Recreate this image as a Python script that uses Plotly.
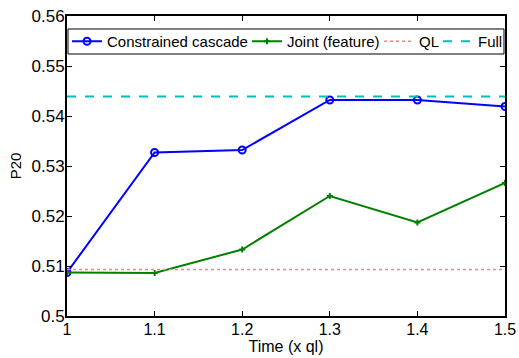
import plotly.graph_objects as go

time = [1.0, 1.1, 1.2, 1.3, 1.4, 1.5]
cascade = [0.5087, 0.5327, 0.5332, 0.5432, 0.5432, 0.5419]
joint = [0.5087, 0.5086, 0.5133, 0.5240, 0.5187, 0.5266]
ql_value = 0.5093
full_value = 0.5439
x_ticks = [1, 1.1, 1.2, 1.3, 1.4, 1.5]
x_tick_labels = ["1", "1.1", "1.2", "1.3", "1.4", "1.5"]
y_ticks = [0.5, 0.51, 0.52, 0.53, 0.54, 0.55, 0.56]
y_tick_labels = ["0.5", "0.51", "0.52", "0.53", "0.54", "0.55", "0.56"]

FONT = "Liberation Sans, Arial, Helvetica"

fig = go.Figure()
fig.add_trace(go.Scatter(x=time, y=cascade, mode="lines+markers", name="Constrained cascade",
                         legend="legend",
                         line=dict(color="#0000FF", width=2),
                         marker=dict(symbol="circle-open", size=7, color="#0000FF", line=dict(width=2))))
fig.add_trace(go.Scatter(x=time, y=joint, mode="lines+markers", name="Joint (feature)",
                         legend="legend2",
                         line=dict(color="#008000", width=2),
                         marker=dict(symbol="cross", size=5, color="#008000")))
fig.add_trace(go.Scatter(x=time, y=[ql_value] * len(time), mode="lines", name="QL",
                         legend="legend3",
                         line=dict(color="#FF8080", width=1.5, dash="dot")))
fig.add_trace(go.Scatter(x=time, y=[full_value] * len(time), mode="lines", name="Full",
                         legend="legend4",
                         line=dict(color="#00BFBF", width=2, dash="dash")))

axis_common = dict(showgrid=False, zeroline=False, showline=True, linecolor="black", linewidth=2,
                   mirror="ticks", ticks="inside", ticklen=5, tickcolor="black", automargin=False)

fig.update_xaxes(range=[1, 1.5], tickvals=x_ticks, ticktext=x_tick_labels,
                 ticklabelstandoff=-2,
                 tickfont=dict(family=FONT, size=16, color="black"),
                 title=dict(text="Time (x ql)", standoff=0,
                            font=dict(family=FONT, size=16, color="black")),
                 **axis_common)
fig.update_yaxes(range=[0.5, 0.56], tickvals=y_ticks, ticktext=y_tick_labels,
                 ticklabelstandoff=-3,
                 tickfont=dict(family=FONT, size=17, color="black"),
                 title=dict(text="P20", standoff=6,
                            font=dict(family=FONT, size=15, color="black")),
                 **axis_common)

legend_style = dict(orientation="h", yanchor="middle", y=0.915, xanchor="left",
                    borderwidth=0, bgcolor="rgba(0,0,0,0)", itemwidth=30,
                    font=dict(family=FONT, size=15, color="black"))

fig.update_layout(
    width=519, height=358,
    margin=dict(l=67, r=13, t=16, b=42),
    paper_bgcolor="white", plot_bgcolor="white",
    showlegend=True,
    legend=dict(x=0.0, **legend_style),
    legend2=dict(x=0.410, **legend_style),
    legend3=dict(x=0.7107, **legend_style),
    legend4=dict(x=0.8451, **legend_style),
    shapes=[dict(type="rect", xref="paper", yref="paper",
                 x0=0.0023, x1=0.9977, y0=0.8733, y1=0.9567,
                 line=dict(color="black", width=1), fillcolor="white", layer="above")],
)

fig.write_html("out.html")
